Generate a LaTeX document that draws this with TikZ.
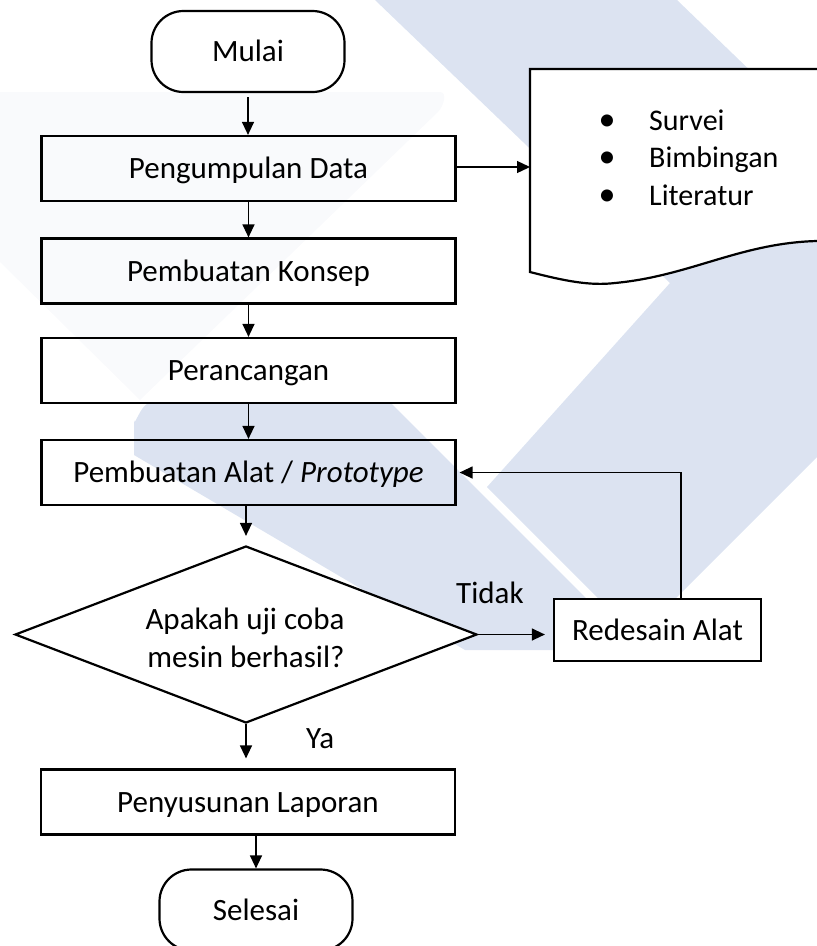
\documentclass[tikz,border=0pt]{standalone}
\usepackage{fontspec}
\setmainfont{Carlito}
\usetikzlibrary{shapes.geometric,arrows.meta}
\definecolor{wm}{RGB}{220,227,241}
\definecolor{wmfaint}{RGB}{249,250,252}
\begin{document}
\begin{tikzpicture}[x=1pt,y=-1pt,
  font=\fontsize{31pt}{38pt}\selectfont,
  box/.style={draw,line width=2.2pt,minimum width=414pt,minimum height=65pt,inner sep=0pt,text height=20pt,text depth=0pt},
  term/.style={draw,line width=2.2pt,rounded corners=32pt,minimum width=193pt,minimum height=81pt,inner sep=0pt,text height=20pt,text depth=0pt},
  decision/.style={draw,fill=white,shape=diamond,line width=2.2pt,minimum width=462pt,minimum height=177pt,aspect=2.61,inner sep=0pt},
  arr/.style={line width=1.3pt,-{Triangle[length=13pt,width=12pt]}},
  lbl/.style={anchor=base west,inner sep=0pt},
  ctr/.style={anchor=base,inner sep=0pt},
  listtext/.style={anchor=base west,inner sep=0pt,font=\fontsize{30pt}{36pt}\selectfont},
  listdot/.style={anchor=base,inner sep=0pt,font=\fontsize{34pt}{36pt}\selectfont}
]
\useasboundingbox (0,0) rectangle (817,946);
\begin{scope}
\clip (0,0) rectangle (817,946);
% watermark
\fill[wmfaint] (0,92) -- (440,92) to[out=0,in=45] (438,112) -- (140,400) -- (0,262) -- cycle;
\fill[wm] (375,0) -- (677,0) -- (817,135) -- (817,457) -- (637,637) -- (487,487) -- (670,283) -- cycle;
\fill[wm] (150,403) -- (391,403) -- (638,650) -- (465,650) -- (134,455) -- (134,420) to[out=-90,in=180] cycle;
% document shape
\draw[line width=2.2pt,fill=white] (840,69) -- (530,69) -- (530,272)
  .. controls (565,281) and (590,286) .. (615,283)
  .. controls (690,276) and (740,243) .. (817,241) -- (840,241);
\end{scope}
\coordinate (docin) at (530,167);

% list in document
\node[listdot] (d1) at (607,130) {•};
\node[listdot] (d2) at (607,167) {•};
\node[listdot] (d3) at (607,205) {•};
\node[listtext] (s1) at (649,130) {Survei};
\node[listtext] (s2) at (649,167) {Bimbingan};
\node[listtext] (s3) at (649,205) {Literatur};

% main nodes
\node[term] (mulai) at (248,51.5) {Mulai};
\node[box] (b1) at (248.5,168.5) {Pengumpulan Data};
\node[box] (b2) at (248.5,271) {Pembuatan Konsep};
\node[box] (b3) at (248.5,370.5) {Perancangan};
\node[box] (b4) at (248.5,472.5) {Pembuatan Alat / \textit{Prototype}};
\node[decision] (dec) at (246,634.5) {};
\node[ctr] (q1) at (245,629) {Apakah uji coba};
\node[ctr] (q2) at (246,667) {mesin berhasil?};
\node[box,fill=white,minimum width=207pt,minimum height=62pt] (red) at (657.5,630) {Redesain Alat};
\node[box] (b5) at (248,802) {Penyusunan Laporan};
\node[term] (selesai) at (256,910) {Selesai};

\node[lbl] (tidak) at (456,603) {Tidak};
\node[lbl] (ya) at (306,748) {Ya};

% connectors
\draw[arr,shorten <=4pt] (mulai.south) -- (mulai.south |- b1.north);
\draw[arr] (b1.south) -- (b2.north);
\draw[arr] (b2.south) -- (b3.north);
\draw[arr] (b3.south) -- (b4.north);
\draw[arr,shorten >=9pt] (dec.north |- b4.south) -- (dec.north);
\draw[arr,shorten >=10pt] (dec.south) -- (dec.south |- b5.north);
\draw[arr] (selesai.north |- b5.south) -- (selesai.north);
\draw[arr] (b1.east |- docin) -- (docin);
\draw[arr,shorten >=8pt] (dec.east) -- (dec.east -| red.west);
\draw[arr,shorten >=3pt] ([xshift=23.5pt]red.north) |- (b4.east);
\end{tikzpicture}
\end{document}
